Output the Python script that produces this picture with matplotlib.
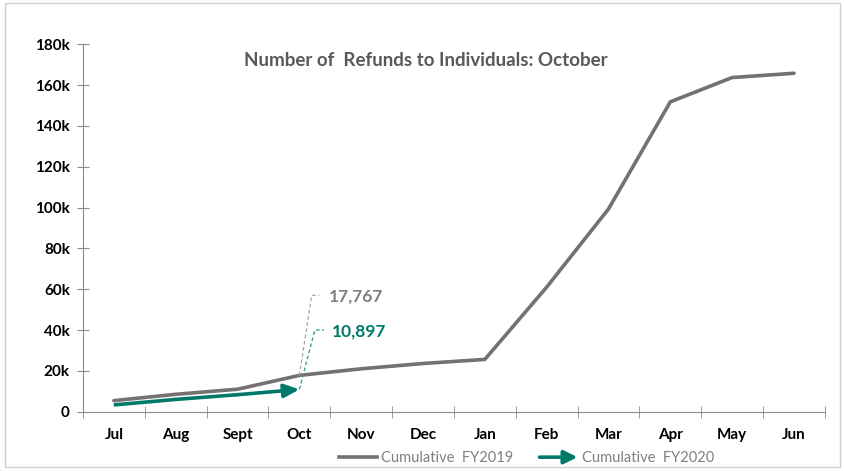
import matplotlib.pyplot as plt
import numpy as np
from matplotlib.patches import FancyArrowPatch, Rectangle
from matplotlib.lines import Line2D
from matplotlib.legend_handler import HandlerPatch

months = ['Jul', 'Aug', 'Sept', 'Oct', 'Nov', 'Dec', 'Jan', 'Feb', 'Mar', 'Apr', 'May', 'Jun']
fy2019 = [5400, 8500, 11000, 17767, 21000, 23600, 25600, 61000, 99300, 151800, 163700, 165800]
fy2020 = [3300, 6000, 8300, 10897]
yticks = [0, 20000, 40000, 60000, 80000, 100000, 120000, 140000, 160000, 180000]
ytick_labels = ['0', '20k', '40k', '60k', '80k', '100k', '120k', '140k', '160k', '180k']

gray = '#767171'
teal = '#00796B'
axis_gray = '#8C8C8C'

plt.rcParams['font.family'] = ['Lato', 'DejaVu Sans']

fig = plt.figure(figsize=(8.45, 4.71), dpi=100, facecolor='white')
ax = fig.add_axes([0.0982, 0.126, 0.878, 0.78])

x = np.arange(len(months))
x20 = np.arange(len(fy2020))

ax.plot(x, fy2019, c=gray, lw=2.6, solid_capstyle='round', solid_joinstyle='round')
# FY2020 line ends with an arrow head on the last point
ax.plot(x20[:-1], fy2020[:-1], c=teal, lw=2.6, solid_capstyle='butt')
ax.annotate('', xy=(x20[-1], fy2020[-1]), xytext=(x20[-2], fy2020[-2]),
            arrowprops=dict(arrowstyle='-|>,head_length=0.9,head_width=0.4',
                            color=teal, lw=2.6, shrinkA=0, shrinkB=0))

# data labels with dashed leader lines
i = len(fy2020) - 1
ax.plot([x[i], x[i] + 0.2, x[i] + 0.32], [fy2019[i], 57000, 57000],
        c='#A6A6A6', lw=0.9, ls=(0, (3, 2)))
ax.text(x[i] + 0.47, 56500, '{:,}'.format(fy2019[i]), color='#7F7F7F',
        fontsize=12.5, fontweight='bold', va='center', ha='left')
ax.plot([x[i], x[i] + 0.25, x[i] + 0.4], [fy2020[i], 40000, 40000],
        c='#2E9C8C', lw=0.9, ls=(0, (3, 2)))
ax.text(x[i] + 0.53, 39500, '{:,}'.format(fy2020[i]), color=teal,
        fontsize=12.5, fontweight='bold', va='center', ha='left')

ax.set_xlim(-0.5, len(months) - 0.5)
ax.set_ylim(0, 180000)
ax.set_yticks(yticks)
ax.set_yticklabels(ytick_labels)
ax.set_xticks(x)
ax.set_xticklabels(months)
ax.set_xticks(np.arange(-0.5, len(months), 1), minor=True)
ax.tick_params(axis='x', which='major', length=0, pad=12)
ax.tick_params(axis='x', which='minor', length=8, direction='inout', color=axis_gray)
ax.tick_params(axis='y', length=9, direction='inout', color=axis_gray, pad=5)
for lbl in ax.get_xticklabels() + ax.get_yticklabels():
    lbl.set_fontweight('bold')
    lbl.set_fontsize(11)

# remove spines
ax.spines['right'].set_visible(False)
ax.spines['top'].set_visible(False)
ax.spines['left'].set_color(axis_gray)
ax.spines['bottom'].set_color(axis_gray)

fig.text(0.504, 0.872, 'Number of  Refunds to Individuals: October', color='#595959',
         fontsize=13.5, fontweight='bold', ha='center', va='center')


class ArrowHandler(HandlerPatch):
    def create_artists(self, legend, orig_handle, xdescent, ydescent,
                       width, height, fontsize, trans):
        y = height / 2 - ydescent
        a = FancyArrowPatch((-xdescent, y), (width - xdescent, y),
                            arrowstyle='-|>,head_length=0.8,head_width=0.4',
                            color=teal, lw=2.6, mutation_scale=10,
                            shrinkA=0, shrinkB=0, transform=trans)
        return [a]


h1 = Line2D([], [], c=gray, lw=2.6)
h2 = FancyArrowPatch((0, 0), (1, 0), color=teal)
leg = fig.legend([h1, h2], ['Cumulative  FY2019', 'Cumulative  FY2020'],
                 handler_map={FancyArrowPatch: ArrowHandler()},
                 loc='center', bbox_to_anchor=(0.623, 0.027), ncol=2,
                 frameon=False, fontsize=10.5, handlelength=2.6,
                 handletextpad=0.3, columnspacing=1.8, labelcolor='#7F7F7F')

# chart border
fig.patches.append(Rectangle((0.006, 0.008), 0.988, 0.985, transform=fig.transFigure,
                             fill=False, ec='#D0D0D0', lw=1))

plt.savefig('out.png', dpi=100)
